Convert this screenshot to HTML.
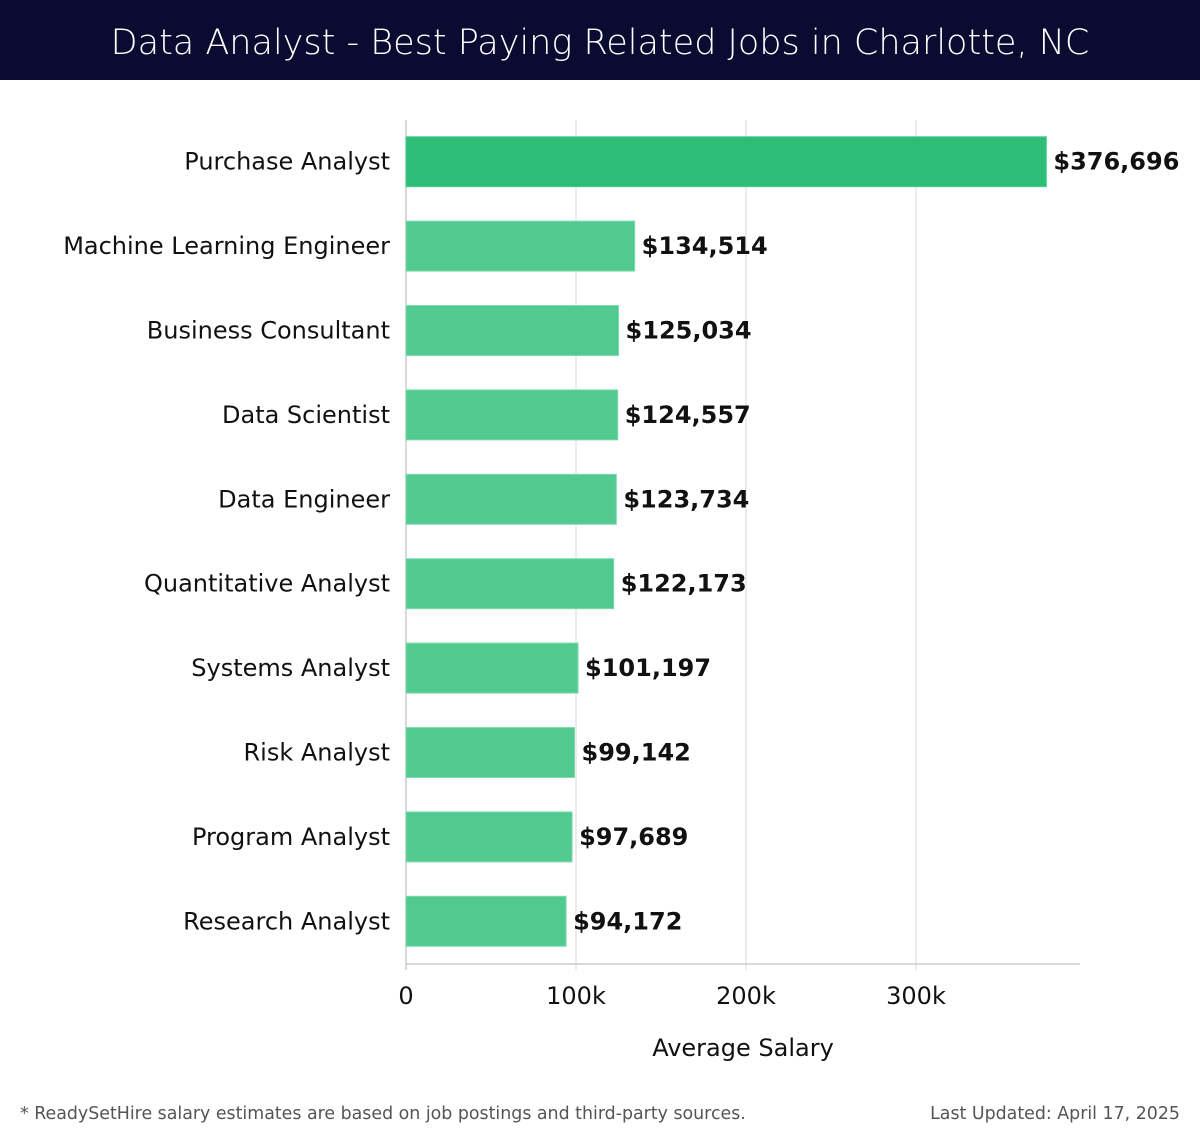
<!DOCTYPE html>
<html><head><meta charset="utf-8"><style>
body{margin:0;width:1200px;height:1140px;background:#fff;overflow:hidden;font-family:"DejaVu Sans","Liberation Sans",sans-serif}
#hdr{position:absolute;left:0;top:0;width:1200px;height:80px;background:#0b0b32;color:#fff;font-size:35px;text-align:center;line-height:86px;font-family:"DejaVu Sans","Liberation Sans",sans-serif;font-weight:300;z-index:2}
#chart{position:absolute;left:0;top:0;z-index:1}
</style></head><body>
<div id="hdr">Data Analyst - Best Paying Related Jobs in Charlotte, NC</div>
<svg id="chart" width="1200" height="1140"></svg>
<script>
const categories=["Purchase Analyst","Machine Learning Engineer","Business Consultant","Data Scientist","Data Engineer","Quantitative Analyst","Systems Analyst","Risk Analyst","Program Analyst","Research Analyst"];
const salaries=[376696,134514,125034,124557,123734,122173,101197,99142,97689,94172];
const tickValues=[0,100000,200000,300000];
const tickLabels=["0","100k","200k","300k"];
const svg=document.getElementById('chart');
const NS='http://www.w3.org/2000/svg';
const x0=406,pxPer=1.7/1000,plotTop=120,plotBottom=964,plotRight=1080;
const band=(plotBottom-plotTop)/categories.length;
const xs=v=>x0+v*pxPer;
const yc=i=>plotTop+band*(i+0.5)-0.5;
function mk(t,a,txt){const e=document.createElementNS(NS,t);for(const k in a)e.setAttribute(k,a[k]);if(txt!==undefined)e.textContent=txt;svg.appendChild(e);return e;}
tickValues.forEach((v,i)=>{
 const g=mk('line',{x1:xs(v),x2:xs(v),y1:plotTop,y2:plotBottom+6,stroke:i==0?'#ccc':'#e6e6e6','stroke-width':1.5});
 
 
 const t=mk('text',{x:xs(v),y:1004,'text-anchor':'middle','font-size':24,fill:'#111'},tickLabels[i]);
 
 
});
const ax=mk('line',{x1:x0,x2:plotRight,y1:plotBottom,y2:plotBottom,stroke:'#ccc','stroke-width':1.5});


categories.forEach((c,i)=>{
 const y=yc(i);
 const r=mk('rect',{x:x0,y:y-25,width:xs(salaries[i])-x0,height:50,fill:i==0?'#2dbd77':'#52c98f',stroke:i==0?'#4fd095':'#7fdcb0','stroke-width':1});
 
 
 const l=mk('text',{x:390,y:y+8,'text-anchor':'end','font-size':24,fill:'#111'},c);
 
 
 const v=mk('text',{x:xs(salaries[i])+7,y:y+8,'font-size':24,'font-weight':'bold',fill:'#111'},'$'+salaries[i].toLocaleString('en-US'));
 
 
});
const xt=mk('text',{x:743,y:1056,'text-anchor':'middle','font-size':24,fill:'#111'},'Average Salary');


const f1=mk('text',{x:20,y:1119,'font-size':17.4,fill:'#555'},'* ReadySetHire salary estimates are based on job postings and third-party sources.');


const f2=mk('text',{x:1180,y:1119,'text-anchor':'end','font-size':17.4,fill:'#555'},'Last Updated: April 17, 2025');


</script>
</body></html>
